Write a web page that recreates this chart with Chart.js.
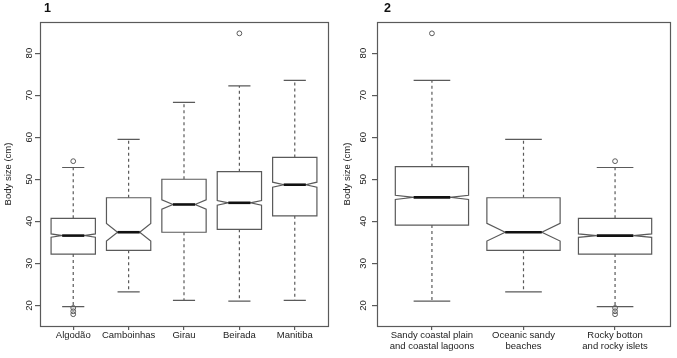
<!DOCTYPE html>
<html>
<head>
<meta charset="utf-8">
<script src="https://cdn.jsdelivr.net/npm/chart.js@4/dist/chart.umd.min.js"></script>
<style>
  html, body { margin: 0; padding: 0; background: #fff; }
  #wrap { position: relative; width: 677px; height: 358px; overflow: hidden; }
  #c1 { position: absolute; left: 0; top: 0; }
  #c2 { position: absolute; left: 338px; top: 0; }
</style>
</head>
<body>
<div id="wrap">
  <canvas id="c1" width="338" height="358"></canvas>
  <canvas id="c2" width="339" height="358"></canvas>
</div>
<script>
// ---------- Data ----------
const yTicks = [20, 30, 40, 50, 60, 70, 80];

// Panel 1: localities
const cats1 = ["Algodão", "Camboinhas", "Girau", "Beirada", "Manitiba"];
const low1 = [19.7, 23.2, 21.2, 21.0, 21.2];
const q1_1 = [32.2, 33.1, 37.4, 38.1, 41.3];
const med1 = [36.6, 37.4, 44.0, 44.4, 48.7];
const q3_1 = [40.7, 45.6, 50.0, 51.8, 55.2];
const high1 = [52.8, 59.5, 68.3, 72.2, 73.5];
const notchLo1 = [36.2, 35.3, 42.9, 43.85, 48.1];
const notchHi1 = [37.0, 39.5, 45.1, 44.95, 49.3];
const out1 = [[54.3, 19.4, 18.6, 17.9], [], [], [84.7], []];

// Panel 2: habitats
const cats2 = [["Sandy coastal plain", "and coastal lagoons"], ["Oceanic sandy", "beaches"], ["Rocky botton", "and rocky islets"]];
const low2 = [21.0, 23.2, 19.7];
const q1_2 = [39.1, 33.1, 32.2];
const med2 = [45.7, 37.4, 36.6];
const q3_2 = [53.0, 45.6, 40.7];
const high2 = [73.5, 59.5, 52.8];
const notchLo2 = [45.2, 35.3, 36.2];
const notchHi2 = [46.2, 39.5, 37.0];
const out2 = [[84.7], [], [54.3, 19.4, 18.6, 17.9]];

// ---------- Styling ----------
const FONT = "'Liberation Sans', Arial, Helvetica, sans-serif";
const LINE = '#5a5a5a';
const TEXT = '#222';
const BOXW = 0.8; // box width in category units

function boxPlugin(s, panelLabel, panelLabelX, yLabelX) {
  return {
    id: 'notchedBoxes',
    beforeDatasetsDraw(chart) {
      const { ctx, scales: { x, y } } = chart;
      ctx.save();
      for (let i = 0; i < s.med.length; i++) {
        const c = i + 1;
        const xl = x.getPixelForValue(c - BOXW / 2);
        const xr = x.getPixelForValue(c + BOXW / 2);
        const xli = x.getPixelForValue(c - BOXW / 4);
        const xri = x.getPixelForValue(c + BOXW / 4);
        const xc = x.getPixelForValue(c);
        const yq1 = y.getPixelForValue(s.q1[i]);
        const yq3 = y.getPixelForValue(s.q3[i]);
        const ym = y.getPixelForValue(s.med[i]);
        const ynl = y.getPixelForValue(s.nlo[i]);
        const ynh = y.getPixelForValue(s.nhi[i]);
        const ylo = y.getPixelForValue(s.low[i]);
        const yhi = y.getPixelForValue(s.high[i]);

        // whiskers (dashed)
        ctx.strokeStyle = LINE;
        ctx.lineWidth = 1.2;
        ctx.setLineDash([3, 3]);
        ctx.beginPath();
        ctx.moveTo(xc, yq3); ctx.lineTo(xc, yhi);
        ctx.moveTo(xc, yq1); ctx.lineTo(xc, ylo);
        ctx.stroke();
        ctx.setLineDash([]);
        // caps
        ctx.beginPath();
        ctx.moveTo(xli, yhi); ctx.lineTo(xri, yhi);
        ctx.moveTo(xli, ylo); ctx.lineTo(xri, ylo);
        ctx.stroke();

        // notched box
        ctx.beginPath();
        ctx.moveTo(xl, yq3);
        ctx.lineTo(xr, yq3);
        ctx.lineTo(xr, ynh);
        ctx.lineTo(xri, ym);
        ctx.lineTo(xr, ynl);
        ctx.lineTo(xr, yq1);
        ctx.lineTo(xl, yq1);
        ctx.lineTo(xl, ynl);
        ctx.lineTo(xli, ym);
        ctx.lineTo(xl, ynh);
        ctx.closePath();
        ctx.fillStyle = '#fff';
        ctx.fill();
        ctx.stroke();

        // median
        ctx.strokeStyle = '#111';
        ctx.lineWidth = 2.6;
        ctx.beginPath();
        ctx.moveTo(xli, ym); ctx.lineTo(xri, ym);
        ctx.stroke();
      }
      ctx.restore();
    },
    afterDraw(chart) {
      const { ctx, chartArea: a, scales: { y } } = chart;
      ctx.save();
      // frame
      ctx.strokeStyle = LINE;
      ctx.lineWidth = 1.2;
      ctx.strokeRect(Math.round(a.left) + 0.5, Math.round(a.top) + 0.5,
        Math.round(a.right - a.left), Math.round(a.bottom - a.top));
      // rotated y tick labels
      ctx.fillStyle = TEXT;
      ctx.font = "9.5px " + FONT;
      ctx.textAlign = 'center';
      ctx.textBaseline = 'middle';
      yTicks.forEach(v => {
        const py = y.getPixelForValue(v);
        ctx.save();
        ctx.translate(yLabelX, py);
        ctx.rotate(-Math.PI / 2);
        ctx.fillText(String(v), 0, 0);
        ctx.restore();
      });
      // panel label
      ctx.font = "bold 12.5px " + FONT;
      ctx.fillStyle = '#111';
      ctx.fillText(panelLabel, panelLabelX, 8.5);
      ctx.restore();
    }
  };
}

function makeChart(canvasId, cats, s, opts) {
  const outPts = [];
  s.out.forEach((arr, i) => arr.forEach(v => outPts.push({ x: i + 1, y: v })));
  return new Chart(document.getElementById(canvasId), {
    type: 'scatter',
    data: {
      datasets: [{
        data: outPts,
        pointRadius: 2.4,
        pointHoverRadius: 2.4,
        pointBorderWidth: 1,
        borderColor: LINE,
        backgroundColor: 'rgba(0,0,0,0)',
        showLine: false
      }]
    },
    options: {
      responsive: false,
      animation: false,
      events: [],
      layout: { padding: { left: 0, right: opts.padRight, top: 22, bottom: 0 } },
      plugins: { legend: { display: false }, tooltip: { enabled: false } },
      scales: {
        x: {
          type: 'linear',
          min: 0.4,
          max: cats.length + 0.6,
          afterBuildTicks: sc => { sc.ticks = cats.map((c, i) => ({ value: i + 1 })); },
          afterFit: sc => { sc.height = 32; },
          grid: { drawOnChartArea: false, drawTicks: true, tickLength: 4, color: LINE, lineWidth: 1.2 },
          border: { display: false },
          ticks: {
            autoSkip: false,
            maxRotation: 0,
            minRotation: 0,
            padding: 0,
            color: TEXT,
            font: { family: FONT, size: 9.5, lineHeight: 1.15 },
            callback: v => cats[Math.round(v) - 1]
          }
        },
        y: {
          type: 'linear',
          min: 15.1,
          max: 87.4,
          afterBuildTicks: sc => { sc.ticks = yTicks.map(v => ({ value: v })); },
          afterFit: sc => { sc.width = opts.yWidth; },
          grid: { drawOnChartArea: false, drawTicks: true, tickLength: 5, color: LINE, lineWidth: 1.2 },
          border: { display: false },
          ticks: { display: false },
          title: {
            display: true,
            text: 'Body size (cm)',
            color: TEXT,
            font: { family: FONT, size: 9.5 },
            padding: { top: opts.titlePad, bottom: 0 }
          }
        }
      }
    },
    plugins: [boxPlugin(s, opts.label, opts.labelX, opts.yLabelX)]
  });
}

makeChart('c1', cats1,
  { low: low1, q1: q1_1, med: med1, q3: q3_1, high: high1, nlo: notchLo1, nhi: notchHi1, out: out1 },
  { padRight: 10, yWidth: 40, titlePad: 3, label: '1', labelX: 47.5, yLabelX: 29 });

makeChart('c2', cats2,
  { low: low2, q1: q1_2, med: med2, q3: q3_2, high: high2, nlo: notchLo2, nhi: notchHi2, out: out2 },
  { padRight: 7, yWidth: 39, titlePad: 4, label: '2', labelX: 49.5, yLabelX: 25 });
</script>
</body>
</html>
